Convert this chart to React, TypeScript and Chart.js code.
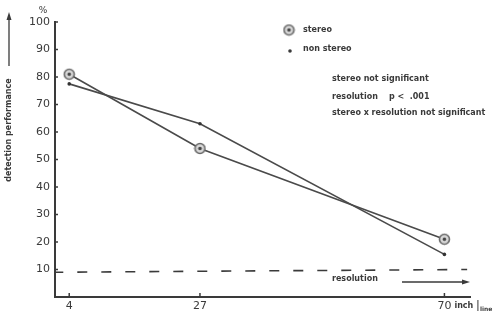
import React, { useEffect, useRef } from 'react';
import { Chart, registerables } from 'chart.js';

Chart.register(...registerables);

// Data
const resolutionValues = [4, 27, 70];
const stereoPerf = [81, 54, 21];
const nonStereoPerf = [77.5, 63, 15.5];
const thresholdX = [1.2, 74];
const thresholdY = [9, 10];
const xTickValues = [4, 27, 70];
const yTickValues = [10, 20, 30, 40, 50, 60, 70, 80, 90, 100];
const legendLabels = ['stereo', 'non stereo'];
const statLines = [
  'stereo not significant',
  'resolution    p <  .001',
  'stereo x resolution not significant',
];
const yTitle = 'detection performance';
const xUnit = 'inch';
const xUnitSub = 'line';

const INK = '#3a3a3a';
const FONT = '"DejaVu Sans", sans-serif';

function makeStereoMarker(): HTMLCanvasElement {
  const c = document.createElement('canvas');
  c.width = 13;
  c.height = 13;
  const g = c.getContext('2d')!;
  g.beginPath();
  g.arc(6.5, 6.5, 5, 0, Math.PI * 2);
  g.fillStyle = '#d8d8d8';
  g.fill();
  g.lineWidth = 1.6;
  g.strokeStyle = '#6a6a6a';
  g.stroke();
  g.beginPath();
  g.arc(6.5, 6.5, 1.8, 0, Math.PI * 2);
  g.fillStyle = '#444';
  g.fill();
  return c;
}

export default function App() {
  const ref = useRef<HTMLCanvasElement | null>(null);

  useEffect(() => {
    if (!ref.current) return;
    const marker = makeStereoMarker();

    const decor = {
      id: 'decor',
      afterDraw(chart: any) {
        const ctx = chart.ctx;
        const x = chart.scales.x;
        const y = chart.scales.y;
        const area = chart.chartArea;
        ctx.save();
        ctx.strokeStyle = INK;
        ctx.fillStyle = INK;
        ctx.lineWidth = 1.5;
        // inside tick marks
        yTickValues.forEach((v) => {
          const py = y.getPixelForValue(v);
          ctx.beginPath();
          ctx.moveTo(area.left, py);
          ctx.lineTo(area.left + 3, py);
          ctx.stroke();
        });
        xTickValues.forEach((v) => {
          const px = x.getPixelForValue(v);
          ctx.beginPath();
          ctx.moveTo(px, area.bottom);
          ctx.lineTo(px, area.bottom - 4);
          ctx.stroke();
        });
        // % sign
        ctx.font = `9px ${FONT}`;
        ctx.textAlign = 'center';
        ctx.textBaseline = 'middle';
        ctx.fillText('%', 43, 11);

        // y title rotated
        ctx.save();
        ctx.translate(9, 130);
        ctx.rotate(-Math.PI / 2);
        ctx.font = `bold 8px ${FONT}`;
        ctx.textAlign = 'center';
        ctx.textBaseline = 'middle';
        ctx.fillText(yTitle, 0, 0, 112);
        ctx.restore();
        // arrow up
        ctx.lineWidth = 1.3;
        ctx.beginPath();
        ctx.moveTo(9, 66);
        ctx.lineTo(9, 17);
        ctx.stroke();
        ctx.beginPath();
        ctx.moveTo(9, 12);
        ctx.lineTo(6.5, 20);
        ctx.lineTo(11.5, 20);
        ctx.closePath();
        ctx.fill();

        // legend
        ctx.drawImage(marker, 289 - 6.5, 30 - 6.5);
        ctx.beginPath();
        ctx.arc(290, 51, 1.8, 0, Math.PI * 2);
        ctx.fill();
        ctx.font = `bold 8px ${FONT}`;
        ctx.textAlign = 'left';
        ctx.textBaseline = 'middle';
        ctx.fillText(legendLabels[0], 303, 30, 34);
        ctx.fillText(legendLabels[1], 303, 49, 58);

        // stats
        const widths = [117, 117, 166];
        const ys = [79, 97, 113];
        statLines.forEach((t, i) => ctx.fillText(t, 332, ys[i], widths[i]));

        // resolution label + arrow
        ctx.fillText('resolution', 332, 279, 49);
        ctx.lineWidth = 1.3;
        ctx.beginPath();
        ctx.moveTo(402, 282);
        ctx.lineTo(463, 282);
        ctx.stroke();
        ctx.beginPath();
        ctx.moveTo(470, 282);
        ctx.lineTo(462, 279.5);
        ctx.lineTo(462, 284.5);
        ctx.closePath();
        ctx.fill();

        // unit next to 70
        const p70 = x.getPixelForValue(70);
        ctx.font = `bold 8px ${FONT}`;
        ctx.fillText(xUnit, p70 + 10, 306, 22);
        ctx.lineWidth = 1;
        ctx.beginPath();
        ctx.moveTo(p70 + 33.5, 300);
        ctx.lineTo(p70 + 33.5, 311);
        ctx.stroke();
        ctx.font = `bold 6px ${FONT}`;
        ctx.fillText(xUnitSub, p70 + 35.5, 309.5, 13);
        ctx.restore();
      },
    };

    const chart = new Chart(ref.current, {
      type: 'line',
      data: {
        datasets: [
          {
            label: legendLabels[0],
            data: resolutionValues.map((v, i) => ({ x: v, y: stereoPerf[i] })),
            borderColor: '#4a4a4a',
            borderWidth: 1.6,
            pointStyle: marker as any,
            pointRadius: 6,
            tension: 0,
          },
          {
            label: legendLabels[1],
            data: resolutionValues.map((v, i) => ({ x: v, y: nonStereoPerf[i] })),
            borderColor: '#4a4a4a',
            backgroundColor: '#333',
            borderWidth: 1.6,
            pointRadius: 1.8,
            pointBorderWidth: 0,
            tension: 0,
          },
          {
            label: 'resolution threshold',
            data: thresholdX.map((v, i) => ({ x: v, y: thresholdY[i] })),
            borderColor: '#3a3a3a',
            borderWidth: 1.6,
            borderDash: [10, 14],
            pointRadius: 0,
          },
        ],
      },
      options: {
        responsive: false,
        animation: false,
        layout: { padding: { top: 22, right: 29, left: 0, bottom: 0 } },
        plugins: { legend: { display: false }, tooltip: { enabled: false }, title: { display: false } },
        scales: {
          x: {
            type: 'linear',
            min: 1.5,
            max: 74.5,
            afterBuildTicks: (s: any) => {
              s.ticks = xTickValues.map((v) => ({ value: v }));
            },
            afterFit: (s: any) => {
              s.height = 18;
              s.paddingLeft = 0;
              s.paddingRight = 0;
            },
            grid: { display: false, drawTicks: false },
            border: { display: true, color: INK, width: 2 },
            ticks: {
              padding: 3,
              color: INK,
              font: { family: FONT, size: 11 },
              maxRotation: 0,
              autoSkip: false,
              callback: (v: any) => String(v),
            },
          },
          y: {
            type: 'linear',
            min: 0,
            max: 100,
            afterBuildTicks: (s: any) => {
              s.ticks = yTickValues.map((v) => ({ value: v }));
            },
            afterFit: (s: any) => {
              s.width = 55;
              s.paddingTop = 0;
              s.paddingBottom = 0;
            },
            grid: { display: false, drawTicks: false },
            border: { display: true, color: INK, width: 2 },
            ticks: {
              padding: 5,
              color: INK,
              font: { family: FONT, size: 11 },
              callback: (v: any) => String(v),
            },
          },
        },
      },
      plugins: [decor],
    });
    return () => chart.destroy();
  }, []);

  return (
    <div style={{ position: 'absolute', left: 0, top: 0, width: 499, height: 315, background: '#fff' }}>
      <canvas ref={ref} width={499} height={315} style={{ display: 'block' }} />
    </div>
  );
}
